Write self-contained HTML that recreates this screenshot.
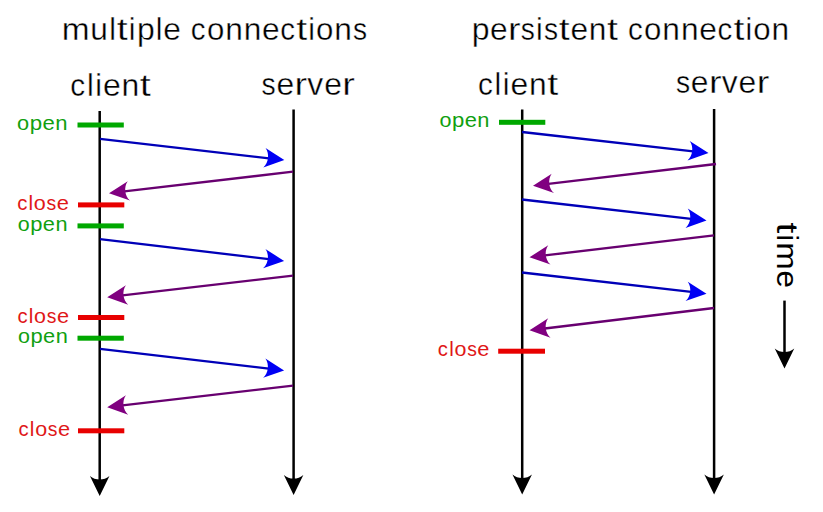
<!DOCTYPE html>
<html><head><meta charset="utf-8"><style>
html,body{margin:0;padding:0;background:#fff;width:823px;height:512px;overflow:hidden}
svg{display:block}
text{font-family:"Liberation Sans",sans-serif}
</style></head><body>
<svg width="823" height="512" viewBox="0 0 823 512">
<rect width="823" height="512" fill="#fff"/>
<line x1="99.70" y1="111.00" x2="99.70" y2="480.60" stroke="#000" stroke-width="2.5"/><path d="M99.70,496.00 L89.95,476.00 C95.20,480.80 104.20,480.80 109.45,476.00 Z" fill="#000"/>
<line x1="293.60" y1="109.50" x2="293.60" y2="479.50" stroke="#000" stroke-width="2.5"/><path d="M293.60,494.90 L283.85,474.90 C289.10,479.70 298.10,479.70 303.35,474.90 Z" fill="#000"/>
<line x1="522.20" y1="109.50" x2="522.20" y2="479.10" stroke="#000" stroke-width="2.5"/><path d="M522.20,494.50 L512.45,474.50 C517.70,479.30 526.70,479.30 531.95,474.50 Z" fill="#000"/>
<line x1="714.10" y1="109.00" x2="714.10" y2="479.10" stroke="#000" stroke-width="2.5"/><path d="M714.10,494.50 L704.35,474.50 C709.60,479.30 718.60,479.30 723.85,474.50 Z" fill="#000"/>
<line x1="784.50" y1="300.60" x2="784.50" y2="353.10" stroke="#000" stroke-width="2.5"/><path d="M784.50,368.50 L774.75,348.50 C780.00,353.30 789.00,353.30 794.25,348.50 Z" fill="#000"/>
<rect x="77.5" y="122.50" width="46.30" height="5.0" fill="#00a800"/>
<rect x="77.5" y="223.40" width="46.30" height="5.0" fill="#00a800"/>
<rect x="77.5" y="335.70" width="46.30" height="5.0" fill="#00a800"/>
<rect x="78" y="202.40" width="46.30" height="5.0" fill="#e80000"/>
<rect x="78" y="315.00" width="46.30" height="5.0" fill="#e80000"/>
<rect x="78" y="428.30" width="46.30" height="5.0" fill="#e80000"/>
<rect x="499" y="119.80" width="46.30" height="5.0" fill="#00a800"/>
<rect x="498.2" y="348.70" width="46.80" height="5.0" fill="#e80000"/>
<line x1="100.00" y1="138.80" x2="269.00" y2="158.29" stroke="#0000b8" stroke-width="2.3"/><path d="M284.30,160.06 L263.31,167.45 C268.68,162.79 269.71,153.85 265.55,148.08 Z" fill="#0000f4"/>
<line x1="100.00" y1="239.10" x2="268.80" y2="259.14" stroke="#0000b8" stroke-width="2.3"/><path d="M284.10,260.96 L263.09,268.28 C268.47,263.64 269.53,254.70 265.39,248.92 Z" fill="#0000f4"/>
<line x1="100.00" y1="348.90" x2="268.80" y2="368.67" stroke="#0000b8" stroke-width="2.3"/><path d="M284.10,370.46 L263.10,377.82 C268.48,373.16 269.52,364.22 265.37,358.45 Z" fill="#0000f4"/>
<line x1="293.00" y1="171.70" x2="124.30" y2="191.37" stroke="#680070" stroke-width="2.3"/><path d="M109.00,193.16 L127.74,181.16 C123.58,186.93 124.62,195.87 130.00,200.53 Z" fill="#800080"/>
<line x1="293.00" y1="275.60" x2="122.50" y2="295.47" stroke="#680070" stroke-width="2.3"/><path d="M107.20,297.26 L125.94,285.26 C121.78,291.03 122.82,299.97 128.20,304.63 Z" fill="#800080"/>
<line x1="293.00" y1="385.60" x2="122.50" y2="405.47" stroke="#680070" stroke-width="2.3"/><path d="M107.20,407.26 L125.94,395.26 C121.78,401.03 122.82,409.97 128.20,414.63 Z" fill="#800080"/>
<line x1="522.00" y1="132.00" x2="693.19" y2="151.33" stroke="#0000b8" stroke-width="2.3"/><path d="M708.50,153.06 L687.53,160.50 C692.89,155.82 693.90,146.88 689.72,141.12 Z" fill="#0000f4"/>
<line x1="522.00" y1="199.50" x2="691.20" y2="218.81" stroke="#0000b8" stroke-width="2.3"/><path d="M706.50,220.56 L685.52,227.98 C690.88,223.30 691.91,214.36 687.73,208.60 Z" fill="#0000f4"/>
<line x1="522.00" y1="272.50" x2="691.20" y2="291.90" stroke="#0000b8" stroke-width="2.3"/><path d="M706.50,293.66 L685.52,301.06 C690.88,296.40 691.91,287.45 687.74,281.69 Z" fill="#0000f4"/>
<line x1="716.00" y1="164.00" x2="548.30" y2="183.94" stroke="#680070" stroke-width="2.3"/><path d="M533.00,185.76 L551.71,173.72 C547.57,179.50 548.63,188.43 554.01,193.08 Z" fill="#800080"/>
<line x1="714.00" y1="235.40" x2="544.80" y2="255.45" stroke="#680070" stroke-width="2.3"/><path d="M529.50,257.26 L548.22,245.22 C544.07,251.00 545.13,259.94 550.51,264.59 Z" fill="#800080"/>
<line x1="714.00" y1="308.00" x2="544.79" y2="328.51" stroke="#680070" stroke-width="2.3"/><path d="M529.50,330.36 L548.19,318.27 C544.05,324.06 545.13,333.00 550.53,337.63 Z" fill="#800080"/>
<g fill="#000"><text transform="translate(61.68,40.3) scale(1.097,1)" font-size="30.5" stroke="#fff" stroke-width="0.35">m</text><text transform="translate(90.27,40.3) scale(1.038,1)" font-size="30.5" stroke="#fff" stroke-width="0.35">u</text><text transform="translate(109.19,40.3) scale(0.984,1)" font-size="30.5" stroke="#fff" stroke-width="0.35">l</text><text transform="translate(116.80,40.3) scale(1.287,1)" font-size="30.5" stroke="#fff" stroke-width="0.35">t</text><text transform="translate(128.87,40.3) scale(0.984,1)" font-size="30.5" stroke="#fff" stroke-width="0.35">i</text><text transform="translate(136.88,40.3) scale(1.047,1)" font-size="30.5" stroke="#fff" stroke-width="0.35">p</text><text transform="translate(155.65,40.3) scale(0.984,1)" font-size="30.5" stroke="#fff" stroke-width="0.35">l</text><text transform="translate(163.34,40.3) scale(1.040,1)" font-size="30.5" stroke="#fff" stroke-width="0.35">e</text><text transform="translate(190.83,40.3) scale(0.966,1)" font-size="30.5" stroke="#fff" stroke-width="0.35">c</text><text transform="translate(206.92,40.3) scale(1.023,1)" font-size="30.5" stroke="#fff" stroke-width="0.35">o</text><text transform="translate(225.13,40.3) scale(1.038,1)" font-size="30.5" stroke="#fff" stroke-width="0.35">n</text><text transform="translate(243.74,40.3) scale(1.038,1)" font-size="30.5" stroke="#fff" stroke-width="0.35">n</text><text transform="translate(262.06,40.3) scale(1.040,1)" font-size="30.5" stroke="#fff" stroke-width="0.35">e</text><text transform="translate(280.22,40.3) scale(0.966,1)" font-size="30.5" stroke="#fff" stroke-width="0.35">c</text><text transform="translate(296.19,40.3) scale(1.287,1)" font-size="30.5" stroke="#fff" stroke-width="0.35">t</text><text transform="translate(308.27,40.3) scale(0.984,1)" font-size="30.5" stroke="#fff" stroke-width="0.35">i</text><text transform="translate(315.97,40.3) scale(1.023,1)" font-size="30.5" stroke="#fff" stroke-width="0.35">o</text><text transform="translate(334.19,40.3) scale(1.038,1)" font-size="30.5" stroke="#fff" stroke-width="0.35">n</text><text transform="translate(353.04,40.3) scale(0.923,1)" font-size="30.5" stroke="#fff" stroke-width="0.35">s</text></g>
<g fill="#000"><text transform="translate(471.64,40.3) scale(1.048,1)" font-size="30.5" stroke="#fff" stroke-width="0.35">p</text><text transform="translate(489.95,40.3) scale(1.040,1)" font-size="30.5" stroke="#fff" stroke-width="0.35">e</text><text transform="translate(507.92,40.3) scale(1.234,1)" font-size="30.5" stroke="#fff" stroke-width="0.35">r</text><text transform="translate(520.63,40.3) scale(0.923,1)" font-size="30.5" stroke="#fff" stroke-width="0.35">s</text><text transform="translate(535.89,40.3) scale(0.984,1)" font-size="30.5" stroke="#fff" stroke-width="0.35">i</text><text transform="translate(544.10,40.3) scale(0.923,1)" font-size="30.5" stroke="#fff" stroke-width="0.35">s</text><text transform="translate(558.79,40.3) scale(1.287,1)" font-size="30.5" stroke="#fff" stroke-width="0.35">t</text><text transform="translate(570.38,40.3) scale(1.040,1)" font-size="30.5" stroke="#fff" stroke-width="0.35">e</text><text transform="translate(588.75,40.3) scale(1.038,1)" font-size="30.5" stroke="#fff" stroke-width="0.35">n</text><text transform="translate(606.99,40.3) scale(1.287,1)" font-size="30.5" stroke="#fff" stroke-width="0.35">t</text><text transform="translate(628.02,40.3) scale(0.966,1)" font-size="30.5" stroke="#fff" stroke-width="0.35">c</text><text transform="translate(644.11,40.3) scale(1.024,1)" font-size="30.5" stroke="#fff" stroke-width="0.35">o</text><text transform="translate(662.34,40.3) scale(1.038,1)" font-size="30.5" stroke="#fff" stroke-width="0.35">n</text><text transform="translate(680.96,40.3) scale(1.038,1)" font-size="30.5" stroke="#fff" stroke-width="0.35">n</text><text transform="translate(699.28,40.3) scale(1.040,1)" font-size="30.5" stroke="#fff" stroke-width="0.35">e</text><text transform="translate(717.45,40.3) scale(0.966,1)" font-size="30.5" stroke="#fff" stroke-width="0.35">c</text><text transform="translate(733.42,40.3) scale(1.287,1)" font-size="30.5" stroke="#fff" stroke-width="0.35">t</text><text transform="translate(745.51,40.3) scale(0.984,1)" font-size="30.5" stroke="#fff" stroke-width="0.35">i</text><text transform="translate(753.22,40.3) scale(1.024,1)" font-size="30.5" stroke="#fff" stroke-width="0.35">o</text><text transform="translate(771.44,40.3) scale(1.038,1)" font-size="30.5" stroke="#fff" stroke-width="0.35">n</text></g>
<g fill="#000"><text transform="translate(70.24,95.5) scale(0.974,1)" font-size="30.5" stroke="#fff" stroke-width="0.35">c</text><text transform="translate(86.90,95.5) scale(0.993,1)" font-size="30.5" stroke="#fff" stroke-width="0.35">l</text><text transform="translate(95.14,95.5) scale(0.993,1)" font-size="30.5" stroke="#fff" stroke-width="0.35">i</text><text transform="translate(102.88,95.5) scale(1.049,1)" font-size="30.5" stroke="#fff" stroke-width="0.35">e</text><text transform="translate(121.40,95.5) scale(1.047,1)" font-size="30.5" stroke="#fff" stroke-width="0.35">n</text><text transform="translate(139.79,95.5) scale(1.298,1)" font-size="30.5" stroke="#fff" stroke-width="0.35">t</text></g>
<g fill="#000"><text transform="translate(261.61,95.2) scale(0.928,1)" font-size="30.5" stroke="#fff" stroke-width="0.35">s</text><text transform="translate(276.46,95.2) scale(1.046,1)" font-size="30.5" stroke="#fff" stroke-width="0.35">e</text><text transform="translate(294.53,95.2) scale(1.241,1)" font-size="30.5" stroke="#fff" stroke-width="0.35">r</text><text transform="translate(307.27,95.2) scale(1.045,1)" font-size="30.5" stroke="#fff" stroke-width="0.35">v</text><text transform="translate(324.26,95.2) scale(1.046,1)" font-size="30.5" stroke="#fff" stroke-width="0.35">e</text><text transform="translate(342.33,95.2) scale(1.241,1)" font-size="30.5" stroke="#fff" stroke-width="0.35">r</text></g>
<g fill="#000"><text transform="translate(477.94,94.6) scale(0.971,1)" font-size="30.5" stroke="#fff" stroke-width="0.35">c</text><text transform="translate(494.54,94.6) scale(0.989,1)" font-size="30.5" stroke="#fff" stroke-width="0.35">l</text><text transform="translate(502.75,94.6) scale(0.989,1)" font-size="30.5" stroke="#fff" stroke-width="0.35">i</text><text transform="translate(510.46,94.6) scale(1.045,1)" font-size="30.5" stroke="#fff" stroke-width="0.35">e</text><text transform="translate(528.91,94.6) scale(1.043,1)" font-size="30.5" stroke="#fff" stroke-width="0.35">n</text><text transform="translate(547.23,94.6) scale(1.293,1)" font-size="30.5" stroke="#fff" stroke-width="0.35">t</text></g>
<g fill="#000"><text transform="translate(676.01,93.2) scale(0.927,1)" font-size="30.5" stroke="#fff" stroke-width="0.35">s</text><text transform="translate(690.85,93.2) scale(1.045,1)" font-size="30.5" stroke="#fff" stroke-width="0.35">e</text><text transform="translate(708.89,93.2) scale(1.239,1)" font-size="30.5" stroke="#fff" stroke-width="0.35">r</text><text transform="translate(721.63,93.2) scale(1.044,1)" font-size="30.5" stroke="#fff" stroke-width="0.35">v</text><text transform="translate(738.59,93.2) scale(1.045,1)" font-size="30.5" stroke="#fff" stroke-width="0.35">e</text><text transform="translate(756.64,93.2) scale(1.239,1)" font-size="30.5" stroke="#fff" stroke-width="0.35">r</text></g>
<g fill="#10a010"><text transform="translate(16.98,130.0) scale(1.058,1)" font-size="20.6">o</text><text transform="translate(29.74,130.0) scale(1.083,1)" font-size="20.6">p</text><text transform="translate(42.52,130.0) scale(1.075,1)" font-size="20.6">e</text><text transform="translate(55.34,130.0) scale(1.073,1)" font-size="20.6">n</text></g>
<g fill="#10a010"><text transform="translate(17.70,230.7) scale(1.041,1)" font-size="20.6">o</text><text transform="translate(30.24,230.7) scale(1.065,1)" font-size="20.6">p</text><text transform="translate(42.81,230.7) scale(1.057,1)" font-size="20.6">e</text><text transform="translate(55.42,230.7) scale(1.055,1)" font-size="20.6">n</text></g>
<g fill="#10a010"><text transform="translate(17.90,343.0) scale(1.043,1)" font-size="20.6">o</text><text transform="translate(30.47,343.0) scale(1.067,1)" font-size="20.6">p</text><text transform="translate(43.06,343.0) scale(1.060,1)" font-size="20.6">e</text><text transform="translate(55.70,343.0) scale(1.058,1)" font-size="20.6">n</text></g>
<g fill="#e01818"><text transform="translate(17.14,210.2) scale(0.987,1)" font-size="20.6">c</text><text transform="translate(28.54,210.2) scale(1.006,1)" font-size="20.6">l</text><text transform="translate(33.87,210.2) scale(1.046,1)" font-size="20.6">o</text><text transform="translate(46.61,210.2) scale(0.943,1)" font-size="20.6">s</text><text transform="translate(56.80,210.2) scale(1.063,1)" font-size="20.6">e</text></g>
<g fill="#e01818"><text transform="translate(17.44,322.6) scale(0.983,1)" font-size="20.6">c</text><text transform="translate(28.80,322.6) scale(1.002,1)" font-size="20.6">l</text><text transform="translate(34.10,322.6) scale(1.042,1)" font-size="20.6">o</text><text transform="translate(46.80,322.6) scale(0.939,1)" font-size="20.6">s</text><text transform="translate(56.94,322.6) scale(1.058,1)" font-size="20.6">e</text></g>
<g fill="#e01818"><text transform="translate(18.44,435.8) scale(0.985,1)" font-size="20.6">c</text><text transform="translate(29.82,435.8) scale(1.004,1)" font-size="20.6">l</text><text transform="translate(35.14,435.8) scale(1.044,1)" font-size="20.6">o</text><text transform="translate(47.85,435.8) scale(0.941,1)" font-size="20.6">s</text><text transform="translate(58.02,435.8) scale(1.060,1)" font-size="20.6">e</text></g>
<g fill="#10a010"><text transform="translate(439.39,127.1) scale(1.047,1)" font-size="20.6">o</text><text transform="translate(452.02,127.1) scale(1.072,1)" font-size="20.6">p</text><text transform="translate(464.67,127.1) scale(1.064,1)" font-size="20.6">e</text><text transform="translate(477.35,127.1) scale(1.062,1)" font-size="20.6">n</text></g>
<g fill="#e01818"><text transform="translate(437.84,356.0) scale(0.983,1)" font-size="20.6">c</text><text transform="translate(449.20,356.0) scale(1.002,1)" font-size="20.6">l</text><text transform="translate(454.50,356.0) scale(1.042,1)" font-size="20.6">o</text><text transform="translate(467.20,356.0) scale(0.939,1)" font-size="20.6">s</text><text transform="translate(477.34,356.0) scale(1.058,1)" font-size="20.6">e</text></g>
<g transform="translate(777,0) rotate(90)"><g fill="#000"><text transform="translate(222.61,0) scale(1.316,1)" font-size="29.5">t</text><text transform="translate(234.56,0) scale(1.007,1)" font-size="29.5">i</text><text transform="translate(242.32,0) scale(1.122,1)" font-size="29.5">m</text><text transform="translate(270.44,0) scale(1.064,1)" font-size="29.5">e</text></g></g>
</svg></body></html>
